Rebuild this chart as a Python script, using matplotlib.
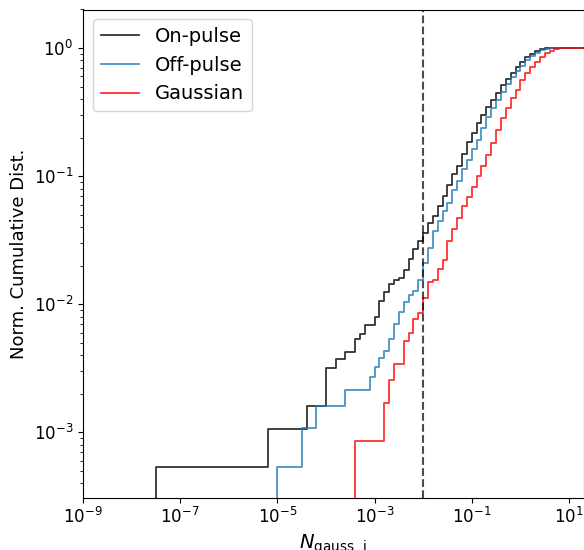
import numpy as np
import matplotlib
matplotlib.use("Agg")
import matplotlib.pyplot as plt

# Cumulative distributions: step edges (log10 N_gauss) and the normalised level reached at each edge
on_edges = [-7.5, -5.2, -4.4, -4.0, -3.8, -3.6, -3.4, -3.3, -3.2, -3.0,
            -2.9, -2.8, -2.7, -2.6, -2.5, -2.4, -2.3, -2.2, -2.1, -2.0,
            -1.9, -1.8, -1.7, -1.6, -1.5, -1.4, -1.3, -1.2, -1.1, -1.0,
            -0.9, -0.8, -0.7, -0.6, -0.5, -0.4, -0.3, -0.2, -0.1, 0.0,
            0.1, 0.2, 0.3, 0.4, 0.5]
on_cdf = [5.33e-4, 1.07e-3, 1.6e-3, 3.2e-3, 3.73e-3, 4.26e-3, 5.33e-3, 5.86e-3, 6.93e-3, 8.0e-3,
          1.06e-2, 1.25e-2, 1.43e-2, 1.54e-2, 1.61e-2, 1.84e-2, 2.25e-2, 2.72e-2, 3.12e-2, 3.57e-2,
          4.3e-2, 4.9e-2, 5.8e-2, 7.0e-2, 8.5e-2, 0.104, 0.12, 0.15, 0.185, 0.216,
          0.258, 0.30, 0.344, 0.393, 0.443, 0.514, 0.569, 0.641, 0.715, 0.773,
          0.846, 0.898, 0.947, 0.977, 1.0]

off_edges = [-5.0, -4.5, -4.2, -3.6, -3.1, -3.0, -2.9, -2.8, -2.7, -2.6,
             -2.5, -2.4, -2.3, -2.2, -2.1, -2.0, -1.9, -1.8, -1.7, -1.6,
             -1.5, -1.4, -1.3, -1.2, -1.1, -1.0, -0.9, -0.8, -0.7, -0.6,
             -0.5, -0.4, -0.3, -0.2, -0.1, 0.0, 0.1, 0.2, 0.3, 0.4,
             0.5, 0.6, 0.7]
off_cdf = [5.4e-4, 1.08e-3, 1.62e-3, 2.16e-3, 2.7e-3, 3.24e-3, 3.78e-3, 4.3e-3, 5.4e-3, 7.0e-3,
           8.7e-3, 1.05e-2, 1.18e-2, 1.26e-2, 1.55e-2, 2.1e-2, 2.75e-2, 3.7e-2, 4.5e-2, 5.3e-2,
           6.2e-2, 7.8e-2, 9.2e-2, 0.113, 0.133, 0.164, 0.193, 0.236, 0.29, 0.34,
           0.39, 0.45, 0.52, 0.59, 0.66, 0.73, 0.80, 0.87, 0.92, 0.96,
           0.98, 0.993, 1.0]

gauss_edges = [-3.4, -2.8, -2.7, -2.6, -2.4, -2.3, -2.2, -2.1, -2.0, -1.9,
               -1.8, -1.7, -1.6, -1.5, -1.4, -1.3, -1.2, -1.1, -1.0, -0.9,
               -0.8, -0.7, -0.6, -0.5, -0.4, -0.3, -0.2, -0.1, 0.0, 0.1,
               0.2, 0.3, 0.4, 0.5, 0.6, 0.7, 0.8]
gauss_cdf = [8.5e-4, 1.7e-3, 2.56e-3, 3.4e-3, 5.13e-3, 5.98e-3, 7.7e-3, 8.55e-3, 1.11e-2, 1.49e-2,
             1.56e-2, 1.87e-2, 2.23e-2, 3.12e-2, 3.9e-2, 4.7e-2, 5.8e-2, 6.9e-2, 8.25e-2, 0.10,
             0.121, 0.145, 0.18, 0.229, 0.282, 0.338, 0.405, 0.47, 0.562, 0.641,
             0.715, 0.782, 0.855, 0.909, 0.953, 0.977, 1.0]

series_labels = ["On-pulse", "Off-pulse", "Gaussian"]
series_colors = ["k", "C0", "r"]
threshold = 1e-2
x_end = 20.0


def step_xy(edges, cdf):
    x = 10.0 ** np.asarray(edges, dtype=float)
    xs = np.concatenate([[x[0]], x, [x_end]])
    ys = np.concatenate([[0.0], cdf, [cdf[-1]]])
    return xs, ys


fig = plt.figure(figsize=(5.84, 5.5), dpi=100)
ax = fig.add_axes([83 / 584, 52.5 / 550, 500.6 / 584, 488 / 550])

for edges, cdf, lab, col in zip([on_edges, off_edges, gauss_edges],
                                [on_cdf, off_cdf, gauss_cdf],
                                series_labels, series_colors):
    xs, ys = step_xy(edges, cdf)
    ax.step(xs, ys, where="post", color=col, alpha=0.8, lw=1.3, label=lab)

ax.axvline(threshold, color="k", ls="--", lw=1.5, alpha=0.7)

ax.set_xscale("log")
ax.set_yscale("log")
ax.set_xlim(1e-9, x_end)
ax.set_ylim(3.1e-4, 2.0)
ax.set_xticks([1e-9, 1e-7, 1e-5, 1e-3, 1e-1, 1e1])
ax.xaxis.set_minor_locator(matplotlib.ticker.NullLocator())
ax.tick_params(labelsize=12)

ax.set_xlabel(r"$N_{\rm gauss,\,i}$", fontsize=14)
ax.set_ylabel("Norm. Cumulative Dist.", fontsize=13)
ax.legend(loc="upper left", fontsize=14)

fig.savefig("out.png", dpi=100)
